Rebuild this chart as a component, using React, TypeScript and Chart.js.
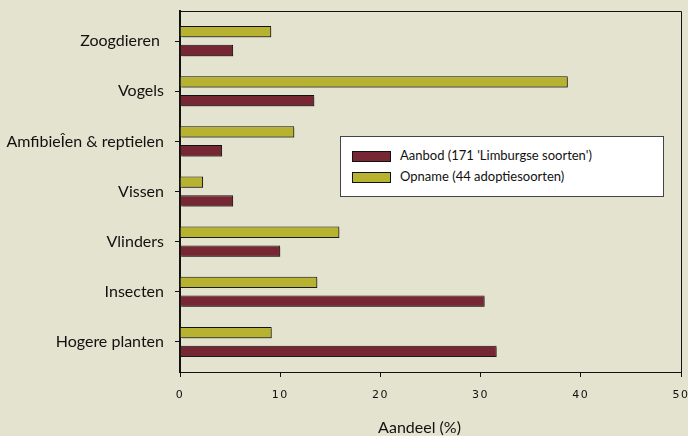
import React, { useEffect, useRef } from 'react';
import { Chart, registerables } from 'chart.js';

Chart.register(...registerables);

const categories = ['Zoogdieren ', 'Vogels', 'AmfibieÎen & reptielen', 'Vissen', 'Vlinders', 'Insecten', 'Hogere planten'];
const aanbod = [5.3, 13.4, 4.2, 5.3, 10.0, 30.4, 31.6];
const opname = [9.1, 38.7, 11.4, 2.3, 15.9, 13.7, 9.15];
const seriesNames = ["Aanbod (171 'Limburgse soorten')", 'Opname (44 adoptiesoorten)'];
const axisTitle = 'Aandeel (%)';

const RED = '#772634';
const YELLOW = '#b7b22f';
const BG = '#e4e3cf';

const framePlugin = {
  id: 'frame',
  beforeDatasetsDraw(chart: any) {
    const ctx = chart.ctx;
    ctx.save();
    ctx.shadowColor = 'rgba(40,40,40,0.45)';
    ctx.shadowOffsetX = 2;
    ctx.shadowOffsetY = 2;
    ctx.shadowBlur = 0;
  },
  afterDatasetsDraw(chart: any) {
    const ctx = chart.ctx;
    ctx.restore();
    const a = chart.chartArea;
    ctx.save();
    ctx.strokeStyle = '#111';
    ctx.lineWidth = 1;
    ctx.beginPath();
    ctx.moveTo(Math.round(a.left), Math.round(a.top) + 0.5);
    ctx.lineTo(Math.round(a.right) + 0.5, Math.round(a.top) + 0.5);
    ctx.lineTo(Math.round(a.right) + 0.5, Math.round(a.bottom));
    ctx.stroke();
    ctx.restore();
  },
  afterUpdate(chart: any) {
    const sx = chart.scales.x;
    if (sx && !sx.__patched) {
      const origLabels = sx.drawLabels.bind(sx);
      sx.drawLabels = (area: any) => {
        const ctx = chart.ctx;
        const prev = ctx.letterSpacing;
        ctx.letterSpacing = '1.5px';
        origLabels(area);
        ctx.letterSpacing = prev || '0px';
      };
      const origTitle = sx.drawTitle.bind(sx);
      sx.drawTitle = (...args: any[]) => {
        const ctx = chart.ctx;
        ctx.save();
        ctx.translate(-11, 0);
        origTitle(...args);
        ctx.restore();
      };
      sx.__patched = true;
    }
  },
};

export default function App() {
  const ref = useRef<HTMLCanvasElement | null>(null);

  useEffect(() => {
    document.body.style.margin = '0';
    const canvas = ref.current;
    if (!canvas) return;
    const chart = new Chart(canvas, {
      type: 'bar',
      data: {
        datasets: [
          {
            label: seriesNames[1],
            data: opname.map((v, i) => ({ x: v, y: i })),
            backgroundColor: YELLOW,
            borderColor: '#111',
            borderWidth: 1,
          },
          {
            label: seriesNames[0],
            data: aanbod.map((v, i) => ({ x: v, y: i })),
            backgroundColor: RED,
            borderColor: '#111',
            borderWidth: 1,
          },
        ],
      },
      options: {
        indexAxis: 'y',
        responsive: false,
        animation: false,
        devicePixelRatio: 1,
        categoryPercentage: 0.75,
        barPercentage: 0.6,
        layout: { padding: { left: 0, top: 11, right: 7, bottom: 0 } },
        plugins: {
          legend: { display: false },
          tooltip: { enabled: false },
        },
        scales: {
          x: {
            type: 'linear',
            position: 'bottom',
            min: 0,
            max: 50,
            offset: false,
            ticks: {
              stepSize: 10,
              color: '#111',
              padding: 12,
              font: { family: '"DejaVu Sans"', size: 11, lineHeight: 1.2 },
            },
            grid: {
              display: true,
              offset: false,
              drawOnChartArea: false,
              drawTicks: true,
              tickLength: 5,
              color: '#111',
            },
            border: { display: true, color: '#111', width: 1 },
            title: {
              display: true,
              text: axisTitle,
              color: '#111',
              padding: { top: 0, bottom: 0 },
              font: { family: 'Lato', size: 16, lineHeight: 1 },
            },
            afterFit: (s: any) => {
              s.height = 64;
              s.paddingLeft = 0;
              s.paddingRight = 0;
            },
          },
          y: {
            type: 'linear',
            position: 'left',
            reverse: true,
            min: -0.6,
            max: 6.6,
            offset: false,
            afterBuildTicks: (s: any) => {
              s.ticks = s.ticks.filter((t: any) => Number.isInteger(t.value) && t.value >= 0 && t.value < categories.length);
            },
            ticks: {
              stepSize: 1,
              color: '#111',
              padding: 11,
              font: { family: 'Lato', size: 16 },
              callback: (v: any) => categories[v as number] ?? '',
            },
            grid: {
              display: true,
              offset: false,
              drawOnChartArea: false,
              drawTicks: true,
              tickLength: 5,
              color: '#111',
            },
            border: { display: true, color: '#111', width: 2 },
            afterFit: (s: any) => {
              s.width = 180;
              s.paddingTop = 0;
              s.paddingBottom = 0;
            },
          },
        },
      },
      plugins: [framePlugin],
    } as any);
    return () => chart.destroy();
  }, []);

  const swatch = (color: string) => ({
    position: 'absolute' as const,
    left: 11,
    width: 37,
    height: 9,
    background: color,
    border: '1px solid #111',
  });
  const text = {
    position: 'absolute' as const,
    left: 59,
    fontFamily: 'Lato',
    fontSize: 13,
    lineHeight: '15px',
    color: '#111',
    whiteSpace: 'nowrap' as const,
  };

  return (
    <div style={{ position: 'relative', width: 688, height: 436, background: BG, overflow: 'hidden' }}>
      <canvas ref={ref} width={688} height={436} style={{ display: 'block' }} />
      <div
        style={{
          position: 'absolute',
          left: 340,
          top: 136,
          width: 322,
          height: 59,
          background: '#fff',
          border: '1px solid #444',
        }}
      >
        <div style={{ ...swatch(RED), top: 14 }} />
        <div style={{ ...text, top: 11 }}>{seriesNames[0]}</div>
        <div style={{ ...swatch(YELLOW), top: 35 }} />
        <div style={{ ...text, top: 32 }}>{seriesNames[1]}</div>
      </div>
    </div>
  );
}
